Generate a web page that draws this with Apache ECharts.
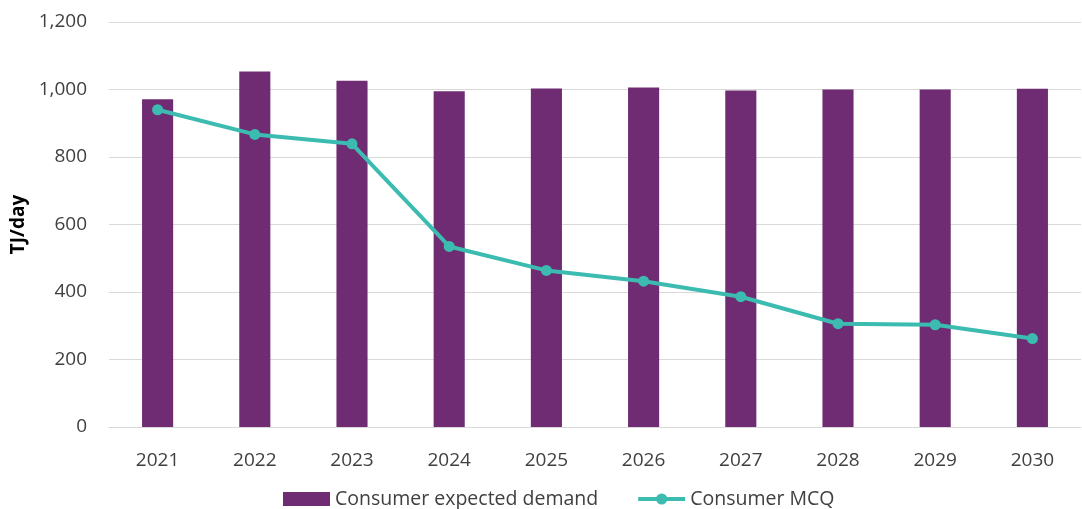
<!DOCTYPE html>
<html>
<head>
<meta charset="utf-8">
<script src="https://cdn.jsdelivr.net/npm/echarts@6/dist/echarts.min.js"></script>
<style>
  html, body { margin: 0; padding: 0; background: #fff; }
  #chart { width: 1082px; height: 509px; }
</style>
</head>
<body>
<div id="chart"></div>
<script>
// Consumer gas demand outlook, TJ/day
const years = ['2021', '2022', '2023', '2024', '2025', '2026', '2027', '2028', '2029', '2030'];
const expectedDemand = [971, 1053, 1026, 995, 1003, 1006, 997, 1000, 1000, 1002];
const consumerMCQ = [940, 867, 839, 535, 464, 432, 386, 306, 303, 262];

const FONT = '"Open Sans", "Noto Sans", sans-serif';
const TEXT = '#404040';

const chart = echarts.init(document.getElementById('chart'), null, { renderer: 'canvas' });
chart.setOption({
  animation: false,
  grid: { left: 109, right: 1, top: 22, bottom: 82 },
  legend: {
    top: 484,
    left: 278,
    itemGap: 38,
    itemWidth: 47,
    itemHeight: 14,
    textStyle: { fontFamily: FONT, fontSize: 19.5, color: TEXT },
    lineStyle: { width: 4 },
    data: [
      { name: 'Consumer expected demand', icon: 'rect' },
      { name: 'Consumer MCQ' }
    ]
  },
  xAxis: {
    type: 'category',
    data: years,
    axisTick: { show: false },
    axisLine: { lineStyle: { color: '#d9d9d9', width: 1 } },
    axisLabel: { fontFamily: FONT, fontSize: 19, color: TEXT, margin: 24 }
  },
  yAxis: {
    type: 'value',
    min: 0,
    max: 1200,
    interval: 200,
    name: 'TJ/day',
    nameLocation: 'middle',
    nameGap: 78,
    nameRotate: 90,
    nameTextStyle: { fontFamily: FONT, fontSize: 19, fontWeight: 'bold', color: '#000' },
    axisLine: { show: false },
    axisTick: { show: false },
    axisLabel: {
      fontFamily: FONT, fontSize: 19, color: TEXT, margin: 22,
      formatter: v => v.toLocaleString('en-US')
    },
    splitLine: { lineStyle: { color: '#d9d9d9', width: 1 } }
  },
  series: [
    {
      name: 'Consumer expected demand',
      type: 'bar',
      data: expectedDemand,
      barWidth: '32%',
      itemStyle: { color: '#6f2c73' }
    },
    {
      name: 'Consumer MCQ',
      type: 'line',
      data: consumerMCQ,
      symbol: 'circle',
      symbolSize: 11,
      lineStyle: { color: '#3cbcb0', width: 4 },
      itemStyle: { color: '#3cbcb0' }
    }
  ]
});
</script>
</body>
</html>
